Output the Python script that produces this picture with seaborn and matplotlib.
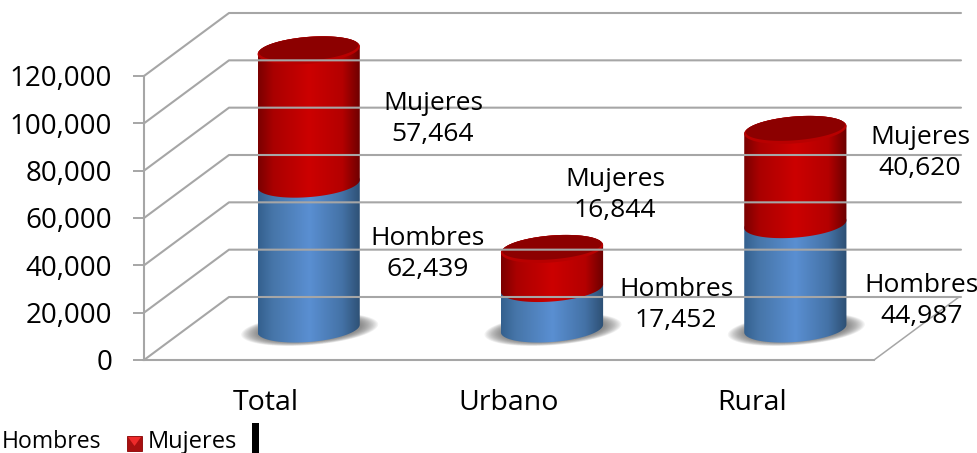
import numpy as np
import pandas as pd
import seaborn as sns
import matplotlib.pyplot as plt
from matplotlib.colors import LinearSegmentedColormap
from matplotlib.lines import Line2D
from matplotlib.patches import PathPatch, Rectangle, Polygon
from matplotlib.path import Path
from matplotlib.transforms import IdentityTransform

categorias = ['Total', 'Urbano', 'Rural']
hombres = [62439, 17452, 44987]
mujeres = [57464, 16844, 40620]
yticks = [0, 20000, 40000, 60000, 80000, 100000, 120000]
W, H = 978, 453

sns.set_style("white")
plt.rcParams['font.family'] = ['Open Sans', 'DejaVu Sans']
GRIS = '#a6a6a6'


def box(x0, y0, x1, y1):
    # pixels (y down) to figure fractions
    return [x0 / W, 1 - y1 / H, (x1 - x0) / W, (y1 - y0) / H]


fig = plt.figure(figsize=(W / 100, H / 100), dpi=100)

# ---- walls, floor and axis
ax = fig.add_axes(box(144, 76, 874, 360))
ax.set_xlim(-0.5, 2.5)
ax.set_ylim(0, 120000)
ax.patch.set_alpha(0)
sns.despine(ax=ax, top=True, right=True)
for s in ['left', 'bottom']:
    ax.spines[s].set_color(GRIS)
    ax.spines[s].set_linewidth(1.5)
ax.set_xticks(range(len(categorias)))
ax.set_xticklabels(categorias, fontsize=20.5, color='black')
ax.set_xticks([-0.5, 0.5, 1.5, 2.5], minor=True)
ax.set_yticks(yticks)
ax.set_yticklabels([f'{v:,}' for v in yticks], fontsize=20, color='black')
ax.tick_params(axis='x', which='major', length=0, pad=21)
ax.tick_params(axis='x', which='minor', length=6, width=1.4, color=GRIS)
ax.tick_params(axis='y', length=8, width=1.4, color=GRIS, pad=15, left=True)

dx, dy = 85, 63
idt = IdentityTransform()
for v in yticks:
    x0, y0 = ax.transData.transform((-0.5, v))
    fig.add_artist(Line2D([x0, x0 + dx, x0 + dx + 732], [y0, y0 + dy, y0 + dy],
                          color=GRIS, lw=1.5, transform=idt))
x0, y0 = ax.transData.transform((2.5, 0))
fig.add_artist(Line2D([x0, x0 + dx], [y0, y0 + dy], color=GRIS, lw=1.1, transform=idt))

# ---- cylinders
escala = 2.32 / 1000  # px per person
base_px, fondo_px = 328.5, 360
over = fig.add_axes(box(187, 0, 917, fondo_px))
base_df = pd.DataFrame({'cat': categorias, 'hombres': hombres, 'mujeres': mujeres})
sns.barplot(data=base_df, x='cat', y='hombres', color='#4f81bd', width=0.42, ax=over)
sns.barplot(data=base_df, x='cat', y='mujeres', bottom=hombres, color='#c00000', width=0.42, ax=over)
lim_y = (-(fondo_px - base_px) / escala, base_px / escala)
over.set_xlim(-0.5, 2.5)
over.set_ylim(*lim_y)
over.axis('off')
over.patch.set_alpha(0)

cm_azul = LinearSegmentedColormap.from_list('a', [(0, '#34608e'), (0.14, '#4675a8'), (0.5, '#5a8fd2'),
                                                  (0.82, '#4472a6'), (1, '#2d4f73')])
cm_rojo = LinearSegmentedColormap.from_list('r', [(0, '#7a0000'), (0.15, '#aa0000'), (0.5, '#cc0000'),
                                                  (0.82, '#b40000'), (1, '#6a0000')])
grad = np.linspace(0, 1, 256).reshape(1, -1)
t = np.linspace(0, 2 * np.pi, 121)
tilt = 0.075
b = 13.5


def anillo(cx, cy, a, bb, ts):
    return np.column_stack([cx + a * np.cos(ts), cy + bb * np.sin(ts) + a * tilt * np.cos(ts)])


n = len(categorias)
bars = list(over.patches)
for i, r in enumerate(bars):
    rx, ry, rw, rh = r.get_x(), r.get_y(), r.get_width(), r.get_height()
    (xa, ya), (xb, yb) = over.transData.transform([(rx, ry), (rx + rw, ry + rh)])
    a, cx = (xb - xa) / 2, (xa + xb) / 2
    r.set_visible(False)
    if i < n:
        # floor shadow, fading outwards
        for k in range(14):
            f = 1.34 - 0.025 * k
            sombra = anillo(cx + 1, ya - 1, a * f, b * (1.16 - 0.02 * k), t)
            over.add_patch(Polygon(sombra, closed=True, fc='#555555', ec='none', alpha=0.07,
                                   transform=idt, zorder=1))
    ts_low = np.linspace(np.pi, 2 * np.pi, 61)
    ts_up = np.linspace(0, np.pi, 61)
    path = Path(np.vstack([anillo(cx, ya, a, b, ts_low), anillo(cx, yb, a, b, ts_up)]), closed=False)
    im = over.imshow(grad, cmap=cm_azul if i < n else cm_rojo, aspect='auto', zorder=3 + (i >= n),
                     extent=(rx, rx + rw, ry - 12000, ry + rh + 12000))
    im.set_clip_path(PathPatch(path, transform=idt))
    if i >= n:
        over.add_patch(Polygon(anillo(cx, yb, a, b, t), closed=True, fc='#b80000', ec='none',
                               transform=idt, zorder=5))
        over.add_patch(Polygon(anillo(cx, yb + 1.5, a * 0.97, b * 0.88, t), closed=True, fc='#8c0000',
                               ec='none', transform=idt, zorder=6))
over.set_xlim(-0.5, 2.5)
over.set_ylim(*lim_y)


# ---- data labels
def etiqueta(nombre, valor, x, y):
    fig.text(x / W, 1 - y / H, f'{nombre}\n{valor:,}', ha='center', va='center',
             fontsize=19, color='black', linespacing=1.36, zorder=10)


etiqueta('Mujeres', mujeres[0], 433, 119)
etiqueta('Hombres', hombres[0], 428, 254)
etiqueta('Mujeres', mujeres[1], 615, 195)
etiqueta('Hombres', hombres[1], 676, 305)
etiqueta('Mujeres', mujeres[2], 920, 153)
etiqueta('Hombres', hombres[2], 922, 301)

# ---- legend, cut at the left and bottom as in the original
fig.text(2 / W, 1 - 442 / H, 'Hombres', ha='left', va='center', fontsize=16.6, color='black')
fig.text(148 / W, 1 - 442 / H, 'Mujeres', ha='left', va='center', fontsize=17, color='black')
fig.add_artist(Rectangle((127, H - 451), 15, 15, fc='#a81010', ec='#8c0000', lw=0.6, transform=idt))
fig.add_artist(Polygon([(128, H - 437), (141, H - 437), (134.5, H - 446)], closed=True,
                       fc='#ee2a2a', ec='none', transform=idt))
fig.add_artist(Rectangle((252, 0), 7, H - 423, fc='black', ec='none', transform=idt))

fig.savefig('out.png', dpi=100)
